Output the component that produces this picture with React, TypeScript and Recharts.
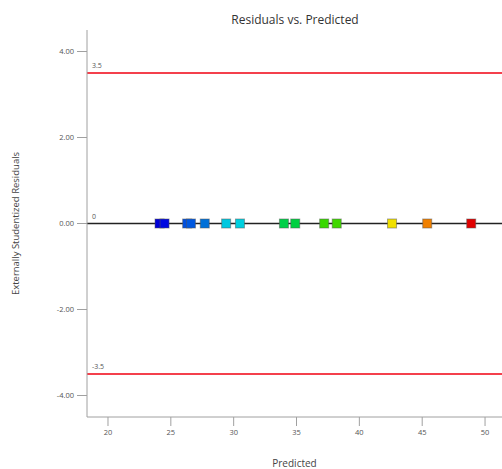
import React from 'react';
import {
  ScatterChart,
  Scatter,
  Cell,
  XAxis,
  YAxis,
  ReferenceLine,
  Label
} from 'recharts';

// Values
const PREDICTED = [24.1, 24.5, 26.3, 26.6, 27.7, 29.4, 30.5, 34.0, 34.9, 37.2, 38.2, 42.6, 45.4, 48.9];
const RESIDUALS = [0, 0, 0, 0, 0, 0, 0, 0, 0, 0, 0, 0, 0, 0];
const POINT_COLORS = [
  '#0000d8', '#0008e0', '#0050e0', '#0058e0', '#0070d8', '#00c8e0', '#00d0e0',
  '#00d048', '#00d040', '#38d800', '#40d800', '#f0e000', '#f08000', '#e00000'
];
const X_TICKS = [20, 25, 30, 35, 40, 45, 50];
const Y_TICKS = [4, 2, 0, -2, -4];
const LIMITS = [3.5, -3.5];

const FONT = '"Open Sans", "Noto Sans", sans-serif';
const AXIS_COLOR = '#a0a0a0';
const TEXT_COLOR = '#555';

const data = PREDICTED.map((x, i) => ({ x, y: RESIDUALS[i] }));

// Square marker, 9px
const Square = (props: any) => {
  const { cx, cy, fill } = props;
  const s = 9;
  return (
    <rect
      x={cx - s / 2}
      y={cy - s / 2}
      width={s}
      height={s}
      fill={fill}
      stroke="#555"
      strokeOpacity={0.5}
      strokeWidth={1}
    />
  );
};

export default function App() {
  return (
    <div style={{ position: 'absolute', left: 0, top: 0, fontFamily: FONT }}>
      <ScatterChart
        width={502}
        height={469}
        margin={{ top: 30, right: 0, left: 0, bottom: 0 }}
      >
        <text
          x={295}
          y={21}
          textAnchor="middle"
          dominantBaseline="middle"
          fontSize={12}
          fill="#333"
          fontFamily={FONT}
        >
          Residuals vs. Predicted
        </text>
        <XAxis
          xAxisId="top"
          orientation="top"
          type="number"
          dataKey="x"
          domain={[18.33, 51.35]}
          allowDataOverflow
          tick={false}
          tickLine={false}
          height={0}
          stroke={AXIS_COLOR}
        />
        <XAxis
          type="number"
          dataKey="x"
          domain={[18.33, 51.35]}
          allowDataOverflow
          ticks={X_TICKS}
          tickSize={9}
          tickMargin={4}
          height={52}
          stroke={AXIS_COLOR}
          tick={{ fontSize: 7.5, fill: TEXT_COLOR, fontFamily: FONT }}
        >
          <Label
            value="Predicted"
            position="insideBottom"
            offset={2}
            style={{ fontSize: 10, fill: '#444', fontFamily: FONT }}
          />
        </XAxis>
        <YAxis
          type="number"
          dataKey="y"
          domain={[-4.5, 4.5]}
          allowDataOverflow
          ticks={Y_TICKS}
          tickFormatter={(v: number) => v.toFixed(2)}
          tickSize={10}
          tickMargin={3}
          width={87}
          stroke={AXIS_COLOR}
          tick={{ fontSize: 7.5, fill: TEXT_COLOR, fontFamily: FONT }}
        >
          <Label
            value="Externally Studentized Residuals"
            angle={-90}
            position="insideLeft"
            offset={16}
            style={{ fontSize: 9.5, fill: '#444', fontFamily: FONT, textAnchor: 'middle' }}
          />
        </YAxis>
        {LIMITS.map((v) => (
          <ReferenceLine
            key={v}
            y={v}
            stroke="#f00010"
            strokeWidth={1.3}
            label={{
              value: String(v),
              position: 'insideBottomLeft',
              offset: 5,
              fontSize: 7,
              fill: TEXT_COLOR,
              fontFamily: FONT
            }}
          />
        ))}
        <ReferenceLine
          y={0}
          stroke="#222"
          strokeWidth={1.5}
          label={{
            value: '0',
            position: 'insideBottomLeft',
            offset: 5,
            fontSize: 7,
            fill: TEXT_COLOR,
            fontFamily: FONT
          }}
        />
        <Scatter data={data} shape={<Square />} isAnimationActive={false}>
          {data.map((_d, i) => (
            <Cell key={`pt-${i}`} fill={POINT_COLORS[i]} />
          ))}
        </Scatter>
      </ScatterChart>
    </div>
  );
}
